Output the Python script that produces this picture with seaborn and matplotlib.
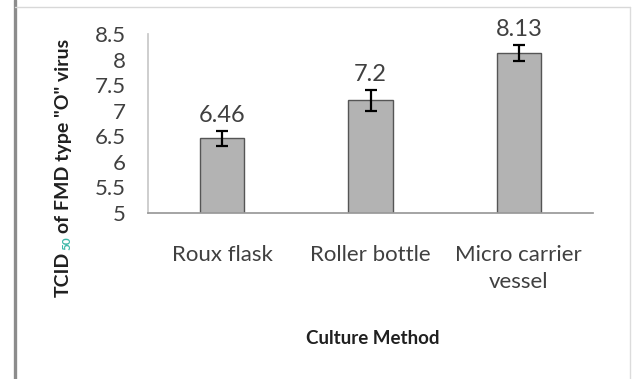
import matplotlib
matplotlib.use("Agg")
import matplotlib.pyplot as plt
import seaborn as sns
import pandas as pd
from matplotlib.lines import Line2D

categories = ["Roux flask", "Roller bottle", "Micro carrier\nvessel"]
values = [6.46, 7.2, 8.13]
errors = [0.15, 0.21, 0.16]
value_labels = ["6.46", "7.2", "8.13"]
yticks = [5, 5.5, 6, 6.5, 7, 7.5, 8, 8.5]
ytick_labels = ["5", "5.5", "6", "6.5", "7", "7.5", "8", "8.5"]

sns.set_theme(style="white")
plt.rcParams["font.family"] = ["Lato", "DejaVu Sans"]

W, H = 636, 379
fig = plt.figure(figsize=(W / 100, H / 100), dpi=100)
fig.patch.set_facecolor("white")

# frame lines of the original screenshot
fig.add_artist(Line2D([15 / W, 15 / W], [0, 1], color="#8c8c8c", lw=2.4, transform=fig.transFigure))
fig.add_artist(Line2D([15 / W, 630 / W], [1 - 7 / H, 1 - 7 / H], color="#d8d8d8", lw=1.0, transform=fig.transFigure))
fig.add_artist(Line2D([630 / W, 630 / W], [0, 1 - 7 / H], color="#dcdcdc", lw=1.0, transform=fig.transFigure))

ax = fig.add_axes([148 / W, 1 - 213 / H, (593 - 148) / W, (213 - 34) / H])
df = pd.DataFrame({"method": categories, "value": values})
sns.barplot(data=df, x="method", y="value", ax=ax, color="#b3b3b3",
            width=0.3, errorbar=None, saturation=1,
            edgecolor="#555555", linewidth=1.0)
ax.errorbar(range(len(values)), values, yerr=errors, fmt="none",
            ecolor="black", elinewidth=1.6, capsize=4, capthick=1.6)
for i, (v, e, lab) in enumerate(zip(values, errors, value_labels)):
    ax.text(i, v + e + 0.1, lab, ha="center", va="bottom", fontsize=17, color="#404040")

ax.set_ylim(5, 8.5)
ax.set_xlim(-0.5, 2.5)
ax.set_yticks(yticks)
ax.set_yticklabels(ytick_labels, fontsize=16, color="#404040")
ax.set_xticks(range(len(categories)))
ax.set_xticklabels(categories, fontsize=16, color="#404040", linespacing=1.45)
ax.tick_params(axis="y", length=4, width=1, color="#c8c8c8", direction="out", pad=12)
ax.tick_params(axis="x", length=0, pad=23)
for s in ["top", "right"]:
    ax.spines[s].set_visible(False)
ax.spines["left"].set_color("#c8c8c8")
ax.spines["bottom"].set_color("#999999")
ax.set_xlabel("")
ax.set_ylabel("")

fig.text(373 / W, 1 - 338 / H, "Culture Method", ha="center", va="center",
         fontsize=13.5, fontweight="bold", color="#202020")

# y label with teal subscript, assembled from pieces
fig.canvas.draw()
r = fig.canvas.get_renderer()
x0 = 63 / W
ystart = 297
t1 = fig.text(x0, 1 - ystart / H, "TCID", rotation=90, ha="center", va="bottom",
              fontsize=14, fontweight="bold", color="#202020")
bb = t1.get_window_extent(r)
t2 = fig.text(x0 + 4 / W, (bb.y1 + 2) / H, "50", rotation=90, ha="center", va="bottom",
              fontsize=8.5, fontweight="bold", color="#3cb8a8")
bb2 = t2.get_window_extent(r)
t3 = fig.text(x0, (bb2.y1 + 3) / H, "of FMD type \"O\" virus", rotation=90, ha="center", va="bottom",
              fontsize=14, fontweight="bold", color="#202020")

fig.savefig("out.png", dpi=100, facecolor="white")
